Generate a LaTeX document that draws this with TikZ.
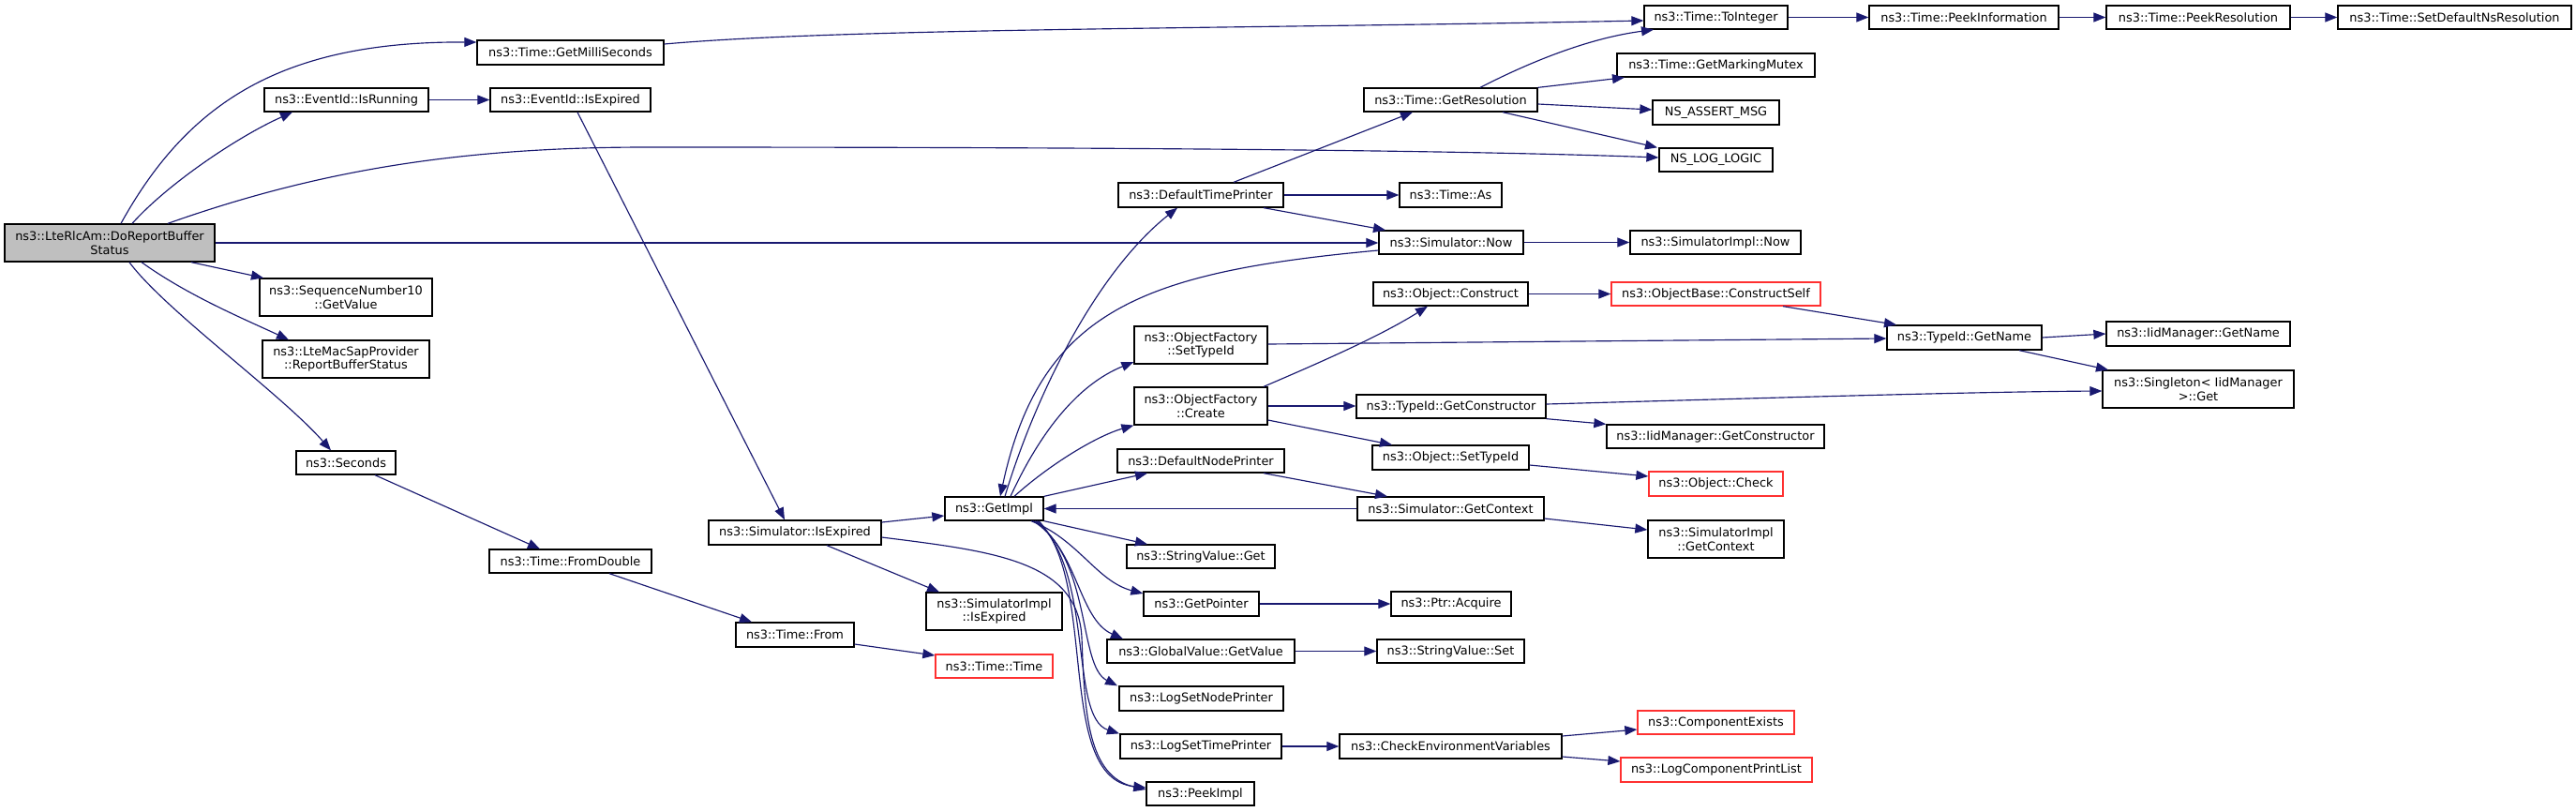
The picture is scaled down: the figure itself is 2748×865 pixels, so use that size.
\documentclass[tikz,border=0pt]{standalone}
\usepackage{fontspec}
\setmainfont{DejaVu Sans}
\usetikzlibrary{arrows.meta}
\definecolor{edgec}{HTML}{191970}
\definecolor{rootfill}{HTML}{BFBFBF}
\definecolor{redb}{HTML}{FF3030}
\tikzset{
  box/.style={draw=black, line width=1.3pt, fill=white, inner sep=0pt, align=center,
    font=\fontsize{12.9}{14.7}\selectfont},
  rootbox/.style={fill=rootfill},
  redbox/.style={draw=redb},
  edge/.style={draw=edgec, line width=1.15pt, -{Triangle[length=13pt,width=10pt]}}
}
\newcommand\bx[7][]{%
  \pgfmathsetmacro\bxcx{(#3+#5)/2}%
  \pgfmathsetmacro\bxcy{(#4+#6)/2}%
  \pgfmathsetmacro\bxw{#5-#3}%
  \pgfmathsetmacro\bxh{#6-#4}%
  \node[box,#1,minimum width=\bxw pt,minimum height=\bxh pt] (#2) at (\bxcx,\bxcy) {#7};}
\begin{document}
\begin{tikzpicture}[x=1pt,y=-1pt]
\useasboundingbox (0,0) rectangle (2748,865);
\bx[rootbox]{root}{5}{239}{229}{279}{ns3::LteRlcAm::DoReportBuffer\\Status}
\bx{gms}{509}{43}{708}{69}{ns3::Time::GetMilliSeconds}
\bx{isrun}{282}{94}{457}{119}{ns3::EventId::IsRunning}
\bx{isexp}{523}{94}{694}{119}{ns3::EventId::IsExpired}
\bx{sn10}{277}{297}{461}{337}{ns3::SequenceNumber10\\::GetValue}
\bx{lmsp}{280}{363}{458}{403}{ns3::LteMacSapProvider\\::ReportBufferStatus}
\bx{secs}{316}{481}{422}{506}{ns3::Seconds}
\bx{fromd}{522}{586}{695}{611}{ns3::Time::FromDouble}
\bx{dtp}{1193}{195}{1369}{221}{ns3::DefaultTimePrinter}
\bx{ofst}{1210}{348}{1352}{388}{ns3::ObjectFactory\\::SetTypeId}
\bx{ofc}{1210}{413}{1352}{453}{ns3::ObjectFactory\\::Create}
\bx{dnp}{1192}{479}{1370}{504}{ns3::DefaultNodePrinter}
\bx{gimpl}{1008}{530}{1113}{555}{ns3::GetImpl}
\bx{simexp}{756}{555}{940}{581}{ns3::Simulator::IsExpired}
\bx{siexp}{988}{632}{1133}{672}{ns3::SimulatorImpl\\::IsExpired}
\bx{tfrom}{785}{664}{911}{690}{ns3::Time::From}
\bx[redbox]{ttime}{998}{698}{1123}{723}{ns3::Time::Time}
\bx{svget}{1202}{581}{1360}{606}{ns3::StringValue::Get}
\bx{gptr}{1220}{631}{1343}{657}{ns3::GetPointer}
\bx{gvgv}{1181}{682}{1381}{707}{ns3::GlobalValue::GetValue}
\bx{lsnp}{1194}{732}{1369}{758}{ns3::LogSetNodePrinter}
\bx{lstp}{1195}{783}{1367}{809}{ns3::LogSetTimePrinter}
\bx{peek}{1223}{834}{1338}{859}{ns3::PeekImpl}
\bx{toint}{1754}{6}{1907}{31}{ns3::Time::ToInteger}
\bx{pinfo}{1994}{6}{2196}{31}{ns3::Time::PeekInformation}
\bx{gmm}{1725}{57}{1936}{82}{ns3::Time::GetMarkingMutex}
\bx{gres}{1455}{94}{1640}{119}{ns3::Time::GetResolution}
\bx{nsassert}{1763}{107}{1898}{133}{NS\_ASSERT\_MSG}
\bx{nslog}{1770}{158}{1891}{183}{NS\_LOG\_LOGIC}
\bx{tas}{1493}{195}{1602}{221}{ns3::Time::As}
\bx{snow}{1471}{246}{1625}{271}{ns3::Simulator::Now}
\bx{sinow}{1739}{246}{1921}{271}{ns3::SimulatorImpl::Now}
\bx{oconst}{1465}{301}{1630}{326}{ns3::Object::Construct}
\bx[redbox]{cself}{1719}{301}{1942}{326}{ns3::ObjectBase::ConstructSelf}
\bx{tgn}{2013}{347}{2178}{373}{ns3::TypeId::GetName}
\bx{tgc}{1447}{421}{1649}{446}{ns3::TypeId::GetConstructor}
\bx{igc}{1714}{453}{1946}{478}{ns3::IidManager::GetConstructor}
\bx{ost}{1464}{475}{1631}{501}{ns3::Object::SetTypeId}
\bx[redbox]{ocheck}{1759}{503}{1902}{529}{ns3::Object::Check}
\bx{sgc}{1448}{530}{1647}{555}{ns3::Simulator::GetContext}
\bx{sigc}{1758}{555}{1903}{595}{ns3::SimulatorImpl\\::GetContext}
\bx{pacq}{1484}{631}{1612}{657}{ns3::Ptr::Acquire}
\bx{svset}{1469}{682}{1626}{707}{ns3::StringValue::Set}
\bx{cev}{1429}{783}{1666}{809}{ns3::CheckEnvironmentVariables}
\bx[redbox]{cex}{1747}{758}{1914}{783}{ns3::ComponentExists}
\bx[redbox]{lcpl}{1729}{808}{1933}{834}{ns3::LogComponentPrintList}
\bx{pres}{2247}{6}{2443}{31}{ns3::Time::PeekResolution}
\bx{sdns}{2494}{6}{2743}{31}{ns3::Time::SetDefaultNsResolution}
\bx{ign}{2247}{343}{2443}{369}{ns3::IidManager::GetName}
\bx{sing}{2243}{395}{2447}{435}{ns3::Singleton< IidManager\\>::Get}

\draw[edge] (129,0 |- root.north) .. controls (200,110) and (300,44) .. (gms.west |- 0,45);
\draw[edge] (141,0 |- root.north) .. controls (180,195) and (255,145) .. (312,0 |- isrun.south);
\draw[edge] (179,0 |- root.north) .. controls (330,185) and (480,157) .. (690,157) .. controls (1000,157) and (1500,158) .. (nslog.west |- 0,168);
\draw[edge] (root.east) -- (root.east -| snow.west);
\draw[edge] (204,0 |- root.south) -- (281,0 |- sn10.north);
\draw[edge] (151,0 |- root.south) .. controls (200,315) and (260,340) .. (308,0 |- lmsp.north);
\draw[edge] (138,0 |- root.south) .. controls (175,330) and (300,420) .. (353,0 |- secs.north);
\draw[edge] (isrun.east) -- (isexp.west);
\draw[edge] (gms.east |- 0,47) .. controls (900,30) and (1300,31) .. (toint.west |- 0,22);
\draw[edge] (616,0 |- isexp.south) -- (837,0 |- simexp.north);
\draw[edge] (400,0 |- secs.south) -- (576,0 |- fromd.north);
\draw[edge] (650,0 |- fromd.south) -- (802,0 |- tfrom.north);
\draw[edge] (tfrom.east |- 0,687) -- (ttime.west |- 0,699);
\draw[edge] (simexp.east |- 0,557) -- (gimpl.west |- 0,550);
\draw[edge] (882,0 |- simexp.south) -- (1002,0 |- siexp.north);
\draw[edge] (simexp.east |- 0,573) .. controls (1060,588) and (1150,598) .. (1154,680) .. controls (1157,760) and (1160,828) .. (peek.west |- 0,842);
\draw[edge] (1072,0 |- gimpl.north) .. controls (1105,420) and (1170,290) .. (1256,0 |- dtp.south);
\draw[edge] (snow.west |- 0,267) .. controls (1220,290) and (1110,330) .. (1067,0 |- gimpl.north);
\draw[edge] (sgc.west) -- (gimpl.east);
\draw[edge] (1078,0 |- gimpl.north) .. controls (1110,460) and (1150,410) .. (ofst.west |- 0,386);
\draw[edge] (1082,0 |- gimpl.north) .. controls (1120,495) and (1170,465) .. (ofc.south west);
\draw[edge] (gimpl.north east) -- (1224,0 |- dnp.south);
\draw[edge] (gimpl.south east) -- (1224,0 |- svget.north);
\draw[edge] (1100,0 |- gimpl.south) .. controls (1150,575) and (1170,620) .. (gptr.west |- 0,633);
\draw[edge] (1102,0 |- gimpl.south) .. controls (1150,585) and (1150,660) .. (1198,0 |- gvgv.north);
\draw[edge] (1104,0 |- gimpl.south) .. controls (1165,600) and (1150,710) .. (1192,0 |- lsnp.north);
\draw[edge] (1106,0 |- gimpl.south) .. controls (1168,610) and (1140,765) .. (1194,0 |- lstp.north);
\draw[edge] (1108,0 |- gimpl.south) .. controls (1172,620) and (1125,830) .. (peek.west |- 0,840);
\draw[edge] (1316,0 |- dtp.north) -- (1507,0 |- gres.south);
\draw[edge] (dtp.east) -- (tas.west);
\draw[edge] (1348,0 |- dtp.south) -- (1478,0 |- snow.north);
\draw[edge] (snow.east) -- (sinow.west);
\draw[edge] (1579,0 |- gres.north) .. controls (1640,62) and (1700,40) .. (1764,0 |- toint.south);
\draw[edge] (gres.north east) -- (1733,0 |- gmm.south);
\draw[edge] (gres.east |- 0,111) -- (nsassert.west |- 0,117);
\draw[edge] (1603,0 |- gres.south) -- (1768,0 |- nslog.north);
\draw[edge] (toint.east) -- (pinfo.west);
\draw[edge] (pinfo.east) -- (pres.west);
\draw[edge] (pres.east) -- (sdns.west);
\draw[edge] (1348,0 |- dnp.south) -- (1480,0 |- sgc.north);
\draw[edge] (ofst.east |- 0,367) -- (tgn.west |- 0,361);
\draw[edge] (1348,0 |- ofc.north) .. controls (1400,390) and (1470,360) .. (1523,0 |- oconst.south);
\draw[edge] (ofc.east) -- (ofc.east -| tgc.west);
\draw[edge] (ofc.east |- 0,448) -- (1485,0 |- ost.north);
\draw[edge] (oconst.east) -- (cself.west);
\draw[edge] (1902,0 |- cself.south) -- (2023,0 |- tgn.north);
\draw[edge] (tgc.east |- 0,431) .. controls (1900,424) and (2100,418) .. (sing.west |- 0,417);
\draw[edge] (tgc.south east) -- (igc.north west);
\draw[edge] (tgn.east) -- (ign.west);
\draw[edge] (2154,0 |- tgn.south) -- (2249,0 |- sing.north);
\draw[edge] (ost.east |- 0,496) -- (ocheck.west |- 0,508);
\draw[edge] (sgc.east |- 0,553) -- (sigc.west |- 0,565);
\draw[edge] (gptr.east) -- (gptr.east -| pacq.west);
\draw[edge] (gvgv.east) -- (svset.west);
\draw[edge] (lstp.east) -- (cev.west);
\draw[edge] (cev.east |- 0,785) -- (cex.west |- 0,778);
\draw[edge] (cev.east |- 0,807) -- (lcpl.west |- 0,812);
\end{tikzpicture}
\end{document}
